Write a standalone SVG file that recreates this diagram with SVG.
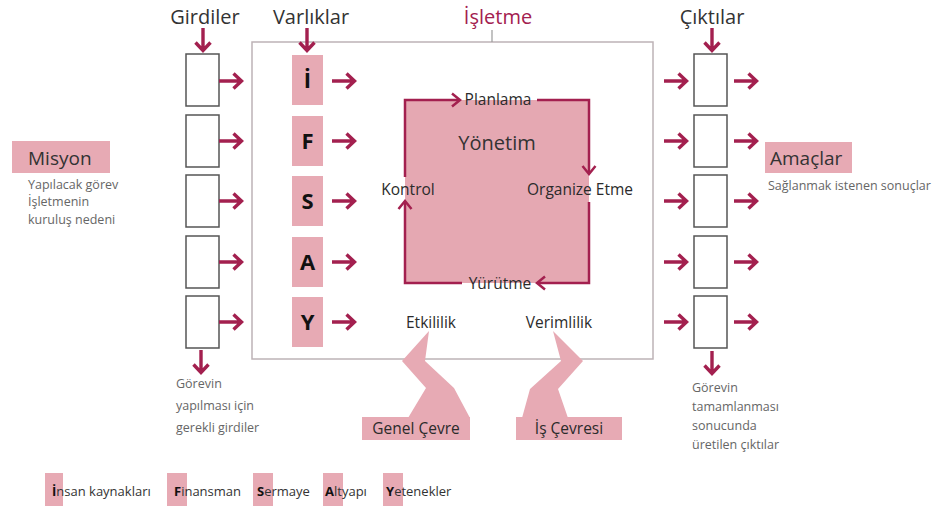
<svg xmlns="http://www.w3.org/2000/svg" xmlns:xlink="http://www.w3.org/1999/xlink" width="939" height="506" viewBox="0 0 939 506">
  <style>
    text { font-family: "Open Sans", "Noto Sans", "DejaVu Sans", sans-serif; fill: #333; }
    .head { font-size: 20px; text-anchor: middle; fill: #333; }
    .red { fill: #a3204f; }
    .box { fill: #fff; stroke: #555; stroke-width: 1.5; }
    .pink { fill: #e7aab4; }
    .letter { font-size: 22px; font-weight: bold; text-anchor: middle; fill: #111; }
    .arr { fill: none; stroke: #a3204f; stroke-width: 3.4; stroke-linecap: butt; stroke-linejoin: miter; }
    .loop { fill: none; stroke: #a3204f; stroke-width: 2.5; }
    .mid { font-size: 15.5px; font-weight: 500; text-anchor: middle; fill: #2b2b2b; }
    .note { font-size: 12.5px; fill: #666; }
    .leg { font-size: 13px; fill: #333; }
    .legb { font-weight: bold; fill: #111; }
  </style>
  <defs>
    <!-- short thick arrow, tip at origin pointing +x -->
    <path id="a" class="arr" d="M-24,0 H-1.5 M-9.5,-7.5 L-1.5,0 L-9.5,7.5"/>
    <!-- smaller head used on the management loop -->
    <path id="h" class="loop" d="M-8,-6.5 L0,0 L-8,6.5" stroke-width="3"/>
  </defs>

  <!-- column headings -->
  <g id="girdiler-head"><text class="head" x="205" y="24">Girdiler</text></g>
  <g id="varliklar-head"><text class="head" x="311" y="24">Varlıklar</text></g>
  <g id="isletme-head"><text class="head red" x="498" y="24">İşletme</text></g>
  <g id="ciktilar-head"><text class="head" x="712" y="24">Çıktılar</text></g>

  <!-- enterprise frame -->
  <g id="isletme">
    <rect x="252" y="42" width="401" height="317" fill="none" stroke="#bdb3b6" stroke-width="1.5"/>
    <line x1="492" y1="30" x2="492" y2="42" stroke="#9a9a9a" stroke-width="1.2"/>
  </g>

  <!-- input boxes -->
  <g id="girdiler">
    <rect class="box" x="186" y="54" width="33" height="52"/>
    <rect class="box" x="186" y="115" width="33" height="52"/>
    <rect class="box" x="186" y="175" width="33" height="52"/>
    <rect class="box" x="186" y="236" width="33" height="52"/>
    <rect class="box" x="186" y="296" width="33" height="52"/>
  </g>

  <!-- resources I F S A Y -->
  <g id="varliklar">
    <rect class="pink" x="292" y="55" width="31" height="50"/>
    <rect class="pink" x="292" y="116" width="31" height="50"/>
    <rect class="pink" x="292" y="176" width="31" height="50"/>
    <rect class="pink" x="292" y="237" width="31" height="50"/>
    <rect class="pink" x="292" y="297" width="31" height="50"/>
    <text class="letter" x="307.5" y="88">İ</text>
    <text class="letter" x="307.5" y="149">F</text>
    <text class="letter" x="307.5" y="209">S</text>
    <text class="letter" x="307.5" y="270">A</text>
    <text class="letter" x="307.5" y="330">Y</text>
  </g>

  <!-- output boxes -->
  <g id="ciktilar">
    <rect class="box" x="694" y="54" width="33" height="52"/>
    <rect class="box" x="694" y="115" width="33" height="52"/>
    <rect class="box" x="694" y="175" width="33" height="52"/>
    <rect class="box" x="694" y="236" width="33" height="52"/>
    <rect class="box" x="694" y="296" width="33" height="52"/>
  </g>

  <!-- management cycle -->
  <g id="yonetim">
    <rect x="405" y="100" width="184" height="183" fill="#e5a8b2"/>
    <text x="497" y="150" font-size="20" text-anchor="middle" fill="#2b2b2b">Yönetim</text>
    <text class="mid" x="498" y="105">Planlama</text>
    <text class="mid" x="580" y="195">Organize Etme</text>
    <text class="mid" x="500" y="289">Yürütme</text>
    <text class="mid" x="408" y="195">Kontrol</text>
    <path class="loop" d="M405,177 V100 H459"/>
    <use xlink:href="#h" href="#h" transform="translate(460,100)"/>
    <path class="loop" d="M537,100 H589 V173"/>
    <use xlink:href="#h" href="#h" transform="translate(589,174) rotate(90)"/>
    <path class="loop" d="M589,202 V283 H538"/>
    <use xlink:href="#h" href="#h" transform="translate(537,283) rotate(180)"/>
    <path class="loop" d="M462,283 H405 V202"/>
    <use xlink:href="#h" href="#h" transform="translate(405,201) rotate(-90)"/>
  </g>

  <g id="etkililik"><text class="mid" x="431" y="328">Etkililik</text></g>
  <g id="verimlilik"><text class="mid" x="559" y="328">Verimlilik</text></g>

  <!-- environment callouts -->
  <g id="genel-cevre">
    <polygon class="pink" points="429,331 402,361 426,388 408,418 470,418 454,388 425,361"/>
    <rect class="pink" x="362" y="417" width="108" height="23"/>
    <text class="mid" x="416" y="434">Genel Çevre</text>
  </g>
  <g id="is-cevresi">
    <polygon class="pink" points="553,331 583,361 558,389 568,418 522,418 530,389 561,361"/>
    <rect class="pink" x="516" y="417" width="106" height="23"/>
    <text class="mid" x="569" y="434">İş Çevresi</text>
  </g>

  <!-- mission -->
  <g id="misyon">
    <rect class="pink" x="12" y="141" width="98" height="32"/>
    <text x="28" y="165" font-size="19" fill="#3a2a2e">Misyon</text>
    <text class="note" x="28" y="189">Yapılacak görev</text>
    <text class="note" x="28" y="206">İşletmenin</text>
    <text class="note" x="28" y="224">kuruluş nedeni</text>
  </g>

  <!-- objectives -->
  <g id="amaclar">
    <rect class="pink" x="765" y="142" width="87" height="31"/>
    <text x="770" y="165" font-size="19" fill="#555">Amaçlar</text>
    <text class="note" x="768" y="190">Sağlanmak istenen sonuçlar</text>
  </g>

  <!-- notes under the input and output columns -->
  <g id="girdi-notu">
    <text class="note" x="176" y="388">Görevin</text>
    <text class="note" x="176" y="410">yapılması için</text>
    <text class="note" x="176" y="432">gerekli girdiler</text>
  </g>
  <g id="cikti-notu">
    <text class="note" x="692" y="392">Görevin</text>
    <text class="note" x="692" y="411">tamamlanması</text>
    <text class="note" x="692" y="430">sonucunda</text>
    <text class="note" x="692" y="449">üretilen çıktılar</text>
  </g>

  <!-- legend -->
  <g id="lejant">
    <rect class="pink" x="45" y="473" width="18" height="33"/>
    <rect class="pink" x="167" y="473" width="20" height="33"/>
    <rect class="pink" x="253" y="473" width="20" height="33"/>
    <rect class="pink" x="323" y="473" width="20" height="33"/>
    <rect class="pink" x="383" y="473" width="20" height="33"/>
    <text class="leg" x="52" y="496"><tspan class="legb">İ</tspan>nsan kaynakları</text>
    <text class="leg" x="174" y="496"><tspan class="legb">F</tspan>inansman</text>
    <text class="leg" x="257" y="496"><tspan class="legb">S</tspan>ermaye</text>
    <text class="leg" x="325" y="496"><tspan class="legb">A</tspan>ltyapı</text>
    <text class="leg" x="386" y="496"><tspan class="legb">Y</tspan>etenekler</text>
  </g>

  <!-- connectors -->
  <g id="baglantilar">
    <use xlink:href="#a" href="#a" transform="translate(203,52) rotate(90)"/>
    <use xlink:href="#a" href="#a" transform="translate(307,52) rotate(90)"/>
    <use xlink:href="#a" href="#a" transform="translate(712,52) rotate(90)"/>
    <use xlink:href="#a" href="#a" transform="translate(201,374) rotate(90)"/>
    <use xlink:href="#a" href="#a" transform="translate(712,375) rotate(90)"/>

    <use xlink:href="#a" href="#a" transform="translate(243,81)"/>
    <use xlink:href="#a" href="#a" transform="translate(243,141)"/>
    <use xlink:href="#a" href="#a" transform="translate(243,201)"/>
    <use xlink:href="#a" href="#a" transform="translate(243,262)"/>
    <use xlink:href="#a" href="#a" transform="translate(243,322)"/>

    <use xlink:href="#a" href="#a" transform="translate(356,81)"/>
    <use xlink:href="#a" href="#a" transform="translate(356,141)"/>
    <use xlink:href="#a" href="#a" transform="translate(356,201)"/>
    <use xlink:href="#a" href="#a" transform="translate(356,262)"/>
    <use xlink:href="#a" href="#a" transform="translate(356,322)"/>

    <use xlink:href="#a" href="#a" transform="translate(688,81)"/>
    <use xlink:href="#a" href="#a" transform="translate(688,141)"/>
    <use xlink:href="#a" href="#a" transform="translate(688,201)"/>
    <use xlink:href="#a" href="#a" transform="translate(688,262)"/>
    <use xlink:href="#a" href="#a" transform="translate(688,322)"/>

    <use xlink:href="#a" href="#a" transform="translate(758,81)"/>
    <use xlink:href="#a" href="#a" transform="translate(758,141)"/>
    <use xlink:href="#a" href="#a" transform="translate(758,201)"/>
    <use xlink:href="#a" href="#a" transform="translate(758,262)"/>
    <use xlink:href="#a" href="#a" transform="translate(758,322)"/>
  </g>
</svg>
